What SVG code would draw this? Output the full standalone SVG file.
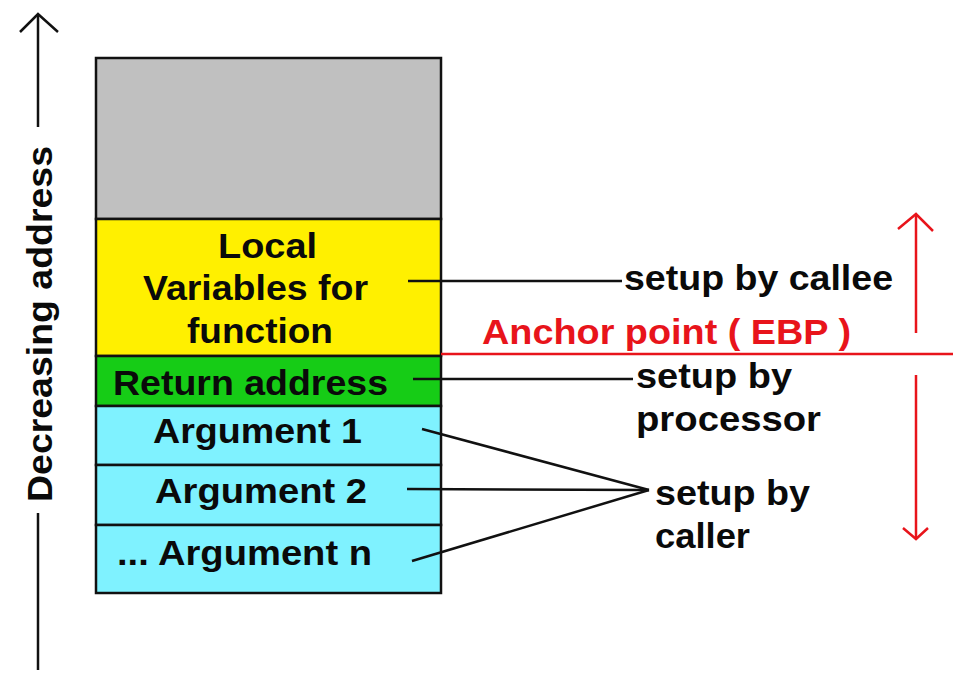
<svg xmlns="http://www.w3.org/2000/svg" width="963" height="679" viewBox="0 0 963 679">
<style>
.cell{stroke:#111;stroke-width:2.5}
.t{font-family:"Liberation Sans",Arial,sans-serif;font-weight:bold;font-size:35px;fill:#0a0a0a}
.red{fill:#e8141b}
.ln{stroke:#111;stroke-width:2.5;fill:none}
.rl{stroke:#e8141b;stroke-width:2.5;fill:none}
</style>
<rect width="963" height="679" fill="#ffffff"/>
<g id="axis">
<line class="ln" x1="38" y1="14" x2="38" y2="127"/>
<polyline class="ln" points="20,32 38,14 58,32"/>
<line class="ln" x1="38" y1="513" x2="38" y2="670"/>
<text class="t" transform="translate(52,502) rotate(-90)" textLength="356" lengthAdjust="spacingAndGlyphs">Decreasing address</text>
</g>
<g id="free">
<rect class="cell" x="96" y="58" width="345" height="161" fill="#c0c0c0"/>
</g>
<g id="local">
<rect class="cell" x="96" y="219" width="345" height="137" fill="#fff000"/>
<text class="t" x="218" y="258" textLength="99" lengthAdjust="spacingAndGlyphs">Local</text>
<text class="t" x="143" y="300" textLength="225" lengthAdjust="spacingAndGlyphs">Variables for</text>
<text class="t" x="187" y="343" textLength="146" lengthAdjust="spacingAndGlyphs">function</text>
</g>
<g id="return">
<rect class="cell" x="96" y="356" width="345" height="50" fill="#16cc16"/>
<text class="t" x="113" y="395" textLength="275" lengthAdjust="spacingAndGlyphs">Return address</text>
</g>
<g id="arg1">
<rect class="cell" x="96" y="406" width="345" height="59" fill="#7ff2ff"/>
<text class="t" x="153" y="443" textLength="209" lengthAdjust="spacingAndGlyphs">Argument 1</text>
</g>
<g id="arg2">
<rect class="cell" x="96" y="465" width="345" height="60" fill="#7ff2ff"/>
<text class="t" x="155" y="503" textLength="212" lengthAdjust="spacingAndGlyphs">Argument 2</text>
</g>
<g id="argn">
<rect class="cell" x="96" y="525" width="345" height="68" fill="#7ff2ff"/>
<text class="t" x="117" y="565" textLength="255" lengthAdjust="spacingAndGlyphs">... Argument n</text>
</g>
<g id="callee">
<text class="t" x="624" y="290" textLength="269" lengthAdjust="spacingAndGlyphs">setup by callee</text>
</g>
<g id="anchor">
<text class="t red" x="482" y="344" textLength="369" lengthAdjust="spacingAndGlyphs">Anchor point ( EBP )</text>
</g>
<g id="processor">
<text class="t" x="636" y="388" textLength="156" lengthAdjust="spacingAndGlyphs">setup by</text>
<text class="t" x="636" y="431" textLength="185" lengthAdjust="spacingAndGlyphs">processor</text>
</g>
<g id="caller">
<text class="t" x="655" y="505" textLength="155" lengthAdjust="spacingAndGlyphs">setup by</text>
<text class="t" x="655" y="548" textLength="95" lengthAdjust="spacingAndGlyphs">caller</text>
</g>
<g id="connectors">
<line class="ln" x1="408" y1="281" x2="622" y2="281"/>
<line class="ln" x1="413" y1="379" x2="633" y2="379"/>
<line class="ln" x1="422" y1="429" x2="649" y2="490"/>
<line class="ln" x1="407" y1="489" x2="649" y2="490"/>
<line class="ln" x1="412" y1="561" x2="649" y2="490"/>
<line class="rl" x1="441" y1="354" x2="953" y2="354"/>
<line class="rl" x1="916" y1="214" x2="916" y2="333"/>
<polyline class="rl" points="898,229 916,214 933,231"/>
<line class="rl" x1="916" y1="375" x2="916" y2="539"/>
<polyline class="rl" points="903,528 916,539 928,528"/>
</g>
</svg>
